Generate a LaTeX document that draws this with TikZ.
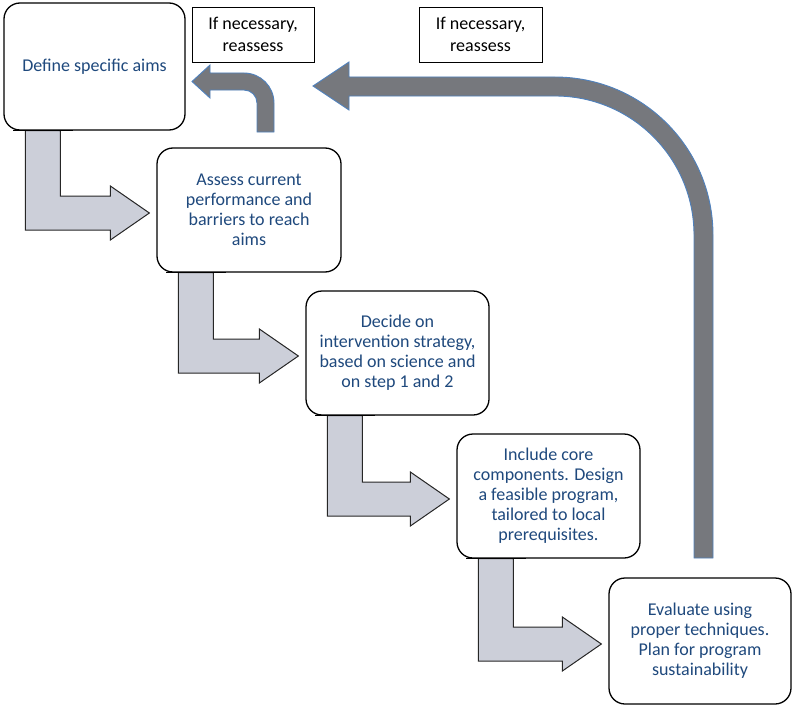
\documentclass[tikz,border=0pt]{standalone}
\usepackage{fontspec}
\setmainfont{Carlito}
\usetikzlibrary{calc}
\definecolor{txtblue}{RGB}{31,73,125}
\definecolor{lightarrow}{RGB}{204,207,217}
\definecolor{darkarrow}{RGB}{118,120,125}
\definecolor{edgeblue}{RGB}{79,129,189}
\tikzset{
  stepbox/.style={draw=black, line width=1.3pt, rounded corners=16pt, fill=white,
    align=center, text=txtblue, inner sep=2pt, font=\fontsize{18}{20}\selectfont},
  notebox/.style={draw=black, line width=0.9pt, fill=white, align=center,
    inner sep=2pt, font=\fontsize{18}{21.5}\selectfont},
  bentarrow/.style={fill=lightarrow, draw=black!85, line width=1pt, line join=miter},
  backarrow/.style={fill=darkarrow, draw=edgeblue, line width=0.9pt, line join=miter},
}
\begin{document}
\begin{tikzpicture}[x=1pt,y=-1pt]
\useasboundingbox (0,0) rectangle (795,709);
\node[stepbox, minimum width=181pt, minimum height=127pt] (b1) at (94.5,66.5) {Define specific aims};
\node[stepbox, minimum width=184pt, minimum height=124pt] (b2) at (249,210) {Assess current\\performance and\\barriers to reach\\aims};
\node[stepbox, minimum width=183pt, minimum height=124pt] (b3) at (397.5,353) {Decide on\\intervention strategy,\\based on science and\\on step 1 and 2};
\node[stepbox, minimum width=183pt, minimum height=124pt] (b4) at (548.5,496) {Include core\\components. Design\\a feasible program,\\tailored to local\\prerequisites.};
\node[stepbox, minimum width=182pt, minimum height=126pt] (b5) at (700,641) {Evaluate using\\proper techniques.\\Plan for program\\sustainability};
\node[notebox, minimum width=122pt, minimum height=55pt] (n1) at (253,34.5) {If necessary,\\reassess};
\node[notebox, minimum width=123pt, minimum height=55pt] (n2) at (480.5,34.5) {If necessary,\\reassess};
% bent step arrows
\foreach \a/\b in {b1/b2,b2/b3,b3/b4,b4/b5}{
  \fill[bentarrow] let \p1=(\a.south west), \p2=(\b.west) in
    (\x1+22,\y1) -- (\x1+57,\y1) -- (\x1+57,\y2+14) -- (\x2-46,\y2+14) -- (\x2-46,\y2+24)
    -- (\x2-7,\y2-3) -- (\x2-46,\y2-30) -- (\x2-46,\y2-20) -- (\x1+22,\y2-20) -- cycle;
}
% redraw box borders over arrow starts
\foreach \b in {b1,b2,b3,b4}{
  \draw[line width=1.3pt] ([xshift=10pt]\b.south west) -- ([xshift=70pt]\b.south west);
}
% small feedback arrow
\filldraw[backarrow] (257,132) -- (257,103) arc(0:-90:13) -- (210,90) -- (210,98) -- (192,81.5)
  -- (210,65) -- (210,73) -- (244,73) arc(-90:0:30) -- (274,132) -- cycle;
% big feedback arrow
\filldraw[backarrow] (694,558) -- (694,235) arc(0:-90:139) -- (349,96) -- (349,110) -- (313,86)
  -- (349,62) -- (349,77) -- (555,77) arc(-90:0:158) -- (713,558) -- cycle;
\end{tikzpicture}
\end{document}
